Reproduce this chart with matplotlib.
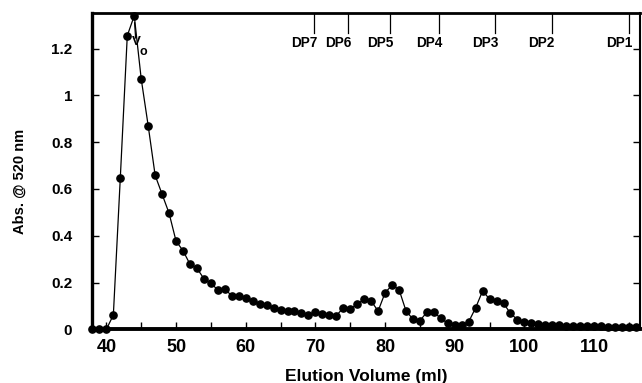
import matplotlib
matplotlib.use("Agg")
import matplotlib.pyplot as plt
from matplotlib.ticker import MultipleLocator, FixedLocator

plt.rcParams['font.family'] = ['Liberation Sans', 'DejaVu Sans']
plt.rcParams['font.weight'] = 'bold'

# Data
volume = list(range(38, 117))
absorbance = [
    0.0, 0.0, 0.0, 0.061, 0.648, 1.255, 1.34, 1.07, 0.87, 0.658,      # 38-47
    0.577, 0.496, 0.377, 0.336, 0.278, 0.261, 0.216, 0.197, 0.168, 0.171,  # 48-57
    0.144, 0.142, 0.132, 0.121, 0.108, 0.105, 0.091, 0.082, 0.079, 0.078,  # 58-67
    0.068, 0.061, 0.073, 0.065, 0.061, 0.058, 0.092, 0.087, 0.107, 0.129,  # 68-77
    0.121, 0.078, 0.156, 0.189, 0.170, 0.079, 0.043, 0.037, 0.073, 0.073,  # 78-87
    0.047, 0.026, 0.018, 0.018, 0.032, 0.092, 0.164, 0.129, 0.122, 0.111,  # 88-97
    0.068, 0.041, 0.033, 0.026, 0.022, 0.020, 0.018, 0.017, 0.016, 0.015,  # 98-107
    0.014, 0.013, 0.012, 0.012, 0.011, 0.011, 0.011, 0.010, 0.010,         # 108-116
]

dp_labels = ['DP7', 'DP6', 'DP5', 'DP4', 'DP3', 'DP2', 'DP1']
dp_positions = [69.8, 74.7, 80.7, 87.8, 95.8, 103.9, 115.0]

x_major = [40, 50, 60, 70, 80, 90, 100, 110]
y_ticks = [0, 0.2, 0.4, 0.6, 0.8, 1.0, 1.2]
y_ticklabels = ['0', '0.2', '0.4', '0.6', '0.8', '1', '1.2']

fig = plt.figure(figsize=(6.42, 3.83), dpi=100)
ax = fig.add_axes([0.1428, 0.1402, 0.854, 0.825])

ax.plot(volume, absorbance, color='black', linewidth=0.9, marker='o',
        markersize=5.2, markerfacecolor='black', markeredgecolor='black',
        clip_on=False, zorder=3)

ax.set_xlim(37.89, 116.58)
ax.set_ylim(0, 1.3504)

ax.xaxis.set_major_locator(FixedLocator(x_major))
ax.xaxis.set_minor_locator(MultipleLocator(5))
ax.set_yticks(y_ticks)
ax.set_yticklabels(y_ticklabels)

ax.tick_params(axis='x', which='both', direction='in', length=5, width=1,
               top=False, labelsize=13, pad=7)
ax.tick_params(axis='y', which='both', direction='in', length=5, width=1,
               right=True, labelsize=11, pad=14)
for lab in ax.get_xticklabels() + ax.get_yticklabels():
    lab.set_fontweight('bold')

ax.spines['left'].set_linewidth(2.4)
ax.spines['bottom'].set_linewidth(2.8)
ax.spines['top'].set_linewidth(2.0)
ax.spines['right'].set_linewidth(1.5)

ax.set_xlabel('Elution Volume (ml)', fontsize=12.5, fontweight='bold', labelpad=9)
fig.text(0.030, 0.527, 'Abs. @ 520 nm', rotation=90, fontsize=10.5,
         fontweight='bold', ha='center', va='center')

# DP markers at top
for lab, pos in zip(dp_labels, dp_positions):
    ax.plot([pos, pos], [1.3504, 1.265], color='black', linewidth=0.9, zorder=2)
    ax.text(pos + 0.45, 1.225, lab, ha='right', va='center', fontsize=9.8,
            fontweight='bold')

# Vo annotation
ax.plot([44.05, 44.2], [1.31, 1.245], color='black', linewidth=0.9)
ax.text(44.25, 1.228, 'V', ha='center', va='center', fontsize=9.5, fontweight='bold')
ax.text(45.25, 1.185, 'o', ha='center', va='center', fontsize=9, fontweight='bold')

fig.savefig('out.png', dpi=100)
